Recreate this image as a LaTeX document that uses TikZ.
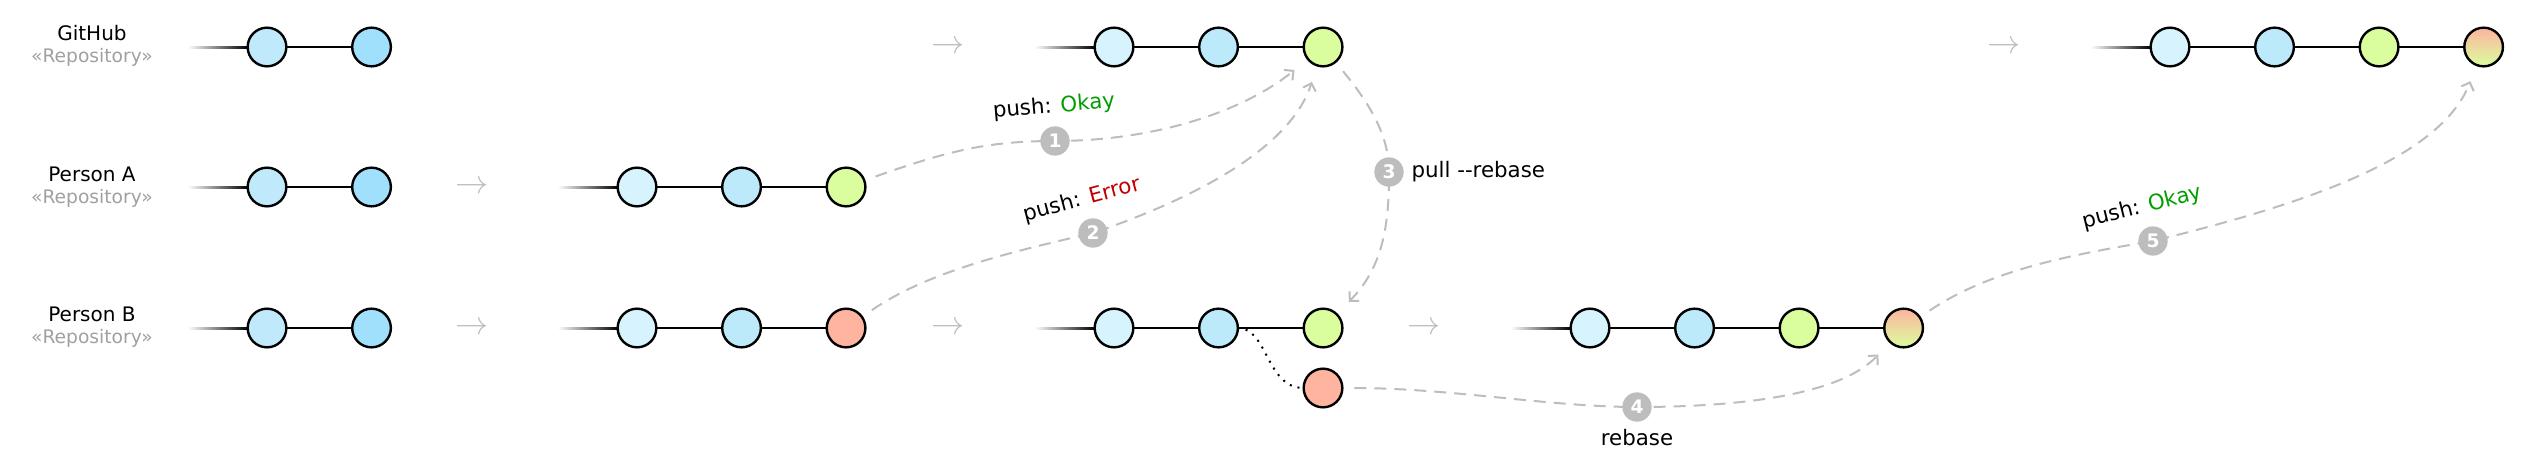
\documentclass[tikz,border=0pt]{standalone}
\usepackage{fontspec}
\setmainfont{DejaVu Sans}
\usepackage{xcolor}
\usepackage{tikz}
\usetikzlibrary{positioning, arrows.meta, calc}

\definecolor{oldone}{HTML}{C0EAFC}
\definecolor{oldtwo}{HTML}{A0E0FC}
\definecolor{baseone}{HTML}{D6F3FE}
\definecolor{basetwo}{HTML}{BDEAFB}
\definecolor{workA}{HTML}{DAFE9E}
\definecolor{workB}{HTML}{FEB49F}
\definecolor{flowgray}{HTML}{BDBDBD}
\definecolor{stereogray}{HTML}{A0A0A0}
\definecolor{okgreen}{HTML}{009E00}
\definecolor{errred}{HTML}{C00000}

\tikzstyle{commit} = [circle, draw=black, line width=1.8pt, minimum size=29pt, inner sep=0pt, outer sep=0pt]
\tikzstyle{branch} = [draw=black, line width=1.8pt]
\tikzstyle{repo} = [align=center, font=\fontsize{15}{17}\selectfont]
\tikzstyle{stepsym} = [text=flowgray, font=\fontsize{25}{25}\selectfont, inner sep=0pt]
\tikzstyle{flow} = [draw=flowgray, line width=1.5pt, dash pattern=on 9pt off 6pt, -{Straight Barb[length=5pt,width=10pt]}, shorten <=9pt, shorten >=13pt]
\tikzstyle{numdot} = [circle, fill=flowgray, text=white, font=\bfseries\fontsize{14}{14}\selectfont, minimum size=22pt, inner sep=0pt]
\tikzstyle{flowlbl} = [font=\fontsize{16}{16}\selectfont, inner sep=1pt]

\newcommand{\fadetail}[1]{\shade[left color=white, right color=black] ($(#1.west)+(-60,-1)$) rectangle ($(#1.west)+(0,1)$);}

\begin{document}
\begin{tikzpicture}[x=0.75pt, y=-0.75pt]
	\useasboundingbox (0,0) rectangle (2531,472);
	% repositories
	\node[repo] (GitHub) at (92,46) {GitHub\\{\color{stereogray}\fontsize{14}{16}\selectfont «Repository»}};
	\node[repo] (Person A) at (92,187) {Person A\\{\color{stereogray}\fontsize{14}{16}\selectfont «Repository»}};
	\node[repo] (Person B) at (92,327) {Person B\\{\color{stereogray}\fontsize{14}{16}\selectfont «Repository»}};

	% start
	\node[commit, fill=oldone] (g1a) at (267,47) {};
	\node[commit, fill=oldtwo, right=49.4pt of g1a] (g1b) {};
	\node[commit, fill=oldone] (a1a) at (267,187) {};
	\node[commit, fill=oldtwo, right=49.4pt of a1a] (a1b) {};
	\node[commit, fill=oldone] (b1a) at (267,328) {};
	\node[commit, fill=oldtwo, right=49.4pt of b1a] (b1b) {};
	\fadetail{g1a} \fadetail{a1a} \fadetail{b1a}
	\draw[branch] (g1a) -- (g1b);
	\draw[branch] (a1a) -- (a1b);
	\draw[branch] (b1a) -- (b1b);

	% both commit
	\node[commit, fill=baseone] (a2a) at (637,187) {};
	\node[commit, fill=basetwo, right=49.4pt of a2a] (a2b) {};
	\node[commit, fill=workA, right=49.4pt of a2b] (a2c) {};
	\node[commit, fill=baseone] (b2a) at (637,328) {};
	\node[commit, fill=basetwo, right=49.4pt of b2a] (b2b) {};
	\node[commit, fill=workB, right=49.4pt of b2b] (b2c) {};
	\fadetail{a2a} \fadetail{b2a}
	\draw[branch] (a2a) -- (a2b) -- (a2c);
	\draw[branch] (b2a) -- (b2b) -- (b2c);

	% after pull
	\node[commit, fill=baseone] (g3a) at (1114,47) {};
	\node[commit, fill=basetwo, right=49.4pt of g3a] (g3b) {};
	\node[commit, fill=workA, right=49.4pt of g3b] (g3c) {};
	\node[commit, fill=baseone] (b3a) at (1114,328) {};
	\node[commit, fill=basetwo, right=49.4pt of b3a] (b3b) {};
	\node[commit, fill=workA, right=49.4pt of b3b] (b3c) {};
	\node[commit, fill=workB] (b3x) at (1323,388) {};
	\fadetail{g3a} \fadetail{b3a}
	\draw[branch] (g3a) -- (g3b) -- (g3c);
	\draw[branch] (b3a) -- (b3b) -- (b3c);
	\draw[line width=1.5pt, dash pattern=on 1.5pt off 4.5pt] (b3b.east) .. controls (1268,328) and (1266,388) .. (b3x.west);

	% after rebase
	\node[commit, fill=baseone] (b4a) at (1590,328) {};
	\node[commit, fill=basetwo, right=49.4pt of b4a] (b4b) {};
	\node[commit, fill=workA, right=49.4pt of b4b] (b4c) {};
	\node[commit, top color=workB, bottom color=workA, right=49.4pt of b4c] (b4d) {};
	\fadetail{b4a}
	\draw[branch] (b4a) -- (b4b) -- (b4c) -- (b4d);

	% final
	\node[commit, fill=baseone] (g5a) at (2170,47) {};
	\node[commit, fill=basetwo, right=49.4pt of g5a] (g5b) {};
	\node[commit, fill=workA, right=49.4pt of g5b] (g5c) {};
	\node[commit, top color=workB, bottom color=workA, right=49.4pt of g5c] (g5d) {};
	\fadetail{g5a}
	\draw[branch] (g5a) -- (g5b) -- (g5c) -- (g5d);

	% steps
	\node[stepsym] (sa1) at (472,187) {$\rightarrow$};
	\node[stepsym] (sb1) at (472,328) {$\rightarrow$};
	\node[stepsym] (sg2) at (948,47) {$\rightarrow$};
	\node[stepsym] (sb2) at (948,328) {$\rightarrow$};
	\node[stepsym] (sb3) at (1424,328) {$\rightarrow$};
	\node[stepsym] (sg4) at (2004,47) {$\rightarrow$};

	% push / pull
	\draw[flow] (a2c) .. controls (950,150) and (990,141) .. (1055,141) node[numdot] (n1) {1} .. controls (1150,141) and (1240,114) .. (g3c);
	\node[flowlbl, rotate=5, above=5pt of n1] {push: \textcolor{okgreen}{Okay}};
	\draw[flow] (b2c) .. controls (930,270) and (1020,250) .. (1093,233) node[numdot] (n2) {2} .. controls (1190,200) and (1290,150) .. (g3c);
	\node[flowlbl, rotate=15, above=6pt of n2, xshift=-6pt] {push: \textcolor{errred}{Error}};
	\draw[flow] (g3c) .. controls (1375,110) and (1389,140) .. (1389,172) node[numdot] (n3) {3} .. controls (1389,220) and (1385,265) .. (b3c);
	\node[flowlbl, right=4pt of n3] {pull -{}-rebase};
	\draw[flow] (b3x) .. controls (1450,388) and (1550,407) .. (1637,407) node[numdot] (n4) {4} .. controls (1740,407) and (1840,395) .. (b4d);
	\node[flowlbl, below=4pt of n4] {rebase};
	\draw[flow] (b4d) .. controls (1990,270) and (2070,255) .. (2153,241) node[numdot] (n5) {5} .. controls (2300,205) and (2440,160) .. (g5d);
	\node[flowlbl, rotate=14, above=6pt of n5, xshift=-6pt] {push: \textcolor{okgreen}{Okay}};
\end{tikzpicture}
\end{document}
